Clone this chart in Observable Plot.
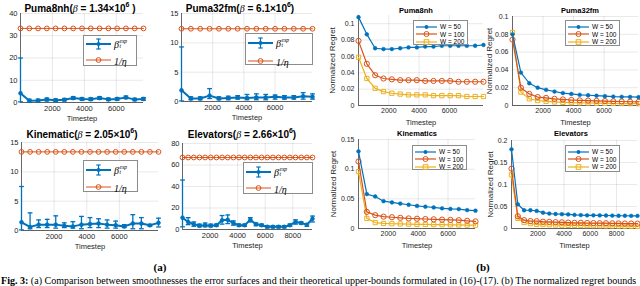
<!DOCTYPE html>
<html><head><meta charset="utf-8">
<script src="https://cdn.jsdelivr.net/npm/d3@7"></script>
<script src="https://cdn.jsdelivr.net/npm/@observablehq/plot@0.6"></script>
<style>
html,body{margin:0;padding:0;background:#fff;}
#fig{position:relative;width:640px;height:286px;overflow:hidden;font-family:"Liberation Sans",Arial,Helvetica,sans-serif;color:#000;}
.ttl{position:absolute;white-space:nowrap;font-weight:bold;line-height:1;transform:translateX(-50%);}
.mi{font-family:"Liberation Serif","Times New Roman",serif;font-style:italic;font-weight:normal;}
.ttl sup{font-size:0.7em;vertical-align:0;position:relative;top:-0.6em;}
.leg{position:absolute;background:#fff;border:0.7px solid #8c8c8c;box-sizing:border-box;}
.lrow{position:absolute;left:0;display:flex;align-items:center;white-space:nowrap;}
.cap{position:absolute;font-family:"Liberation Serif","Times New Roman",serif;white-space:nowrap;line-height:1;}
</style></head><body><div id="fig"></div>
<script>
// ---------- (a) smoothness data ----------
const tA_Puma8nh = [0,550,1100,1650,2200,2750,3300,3850,4400,4950,5500,6050,6600,7150,7700];
const betaPuma8nh   = [4.2,0.8,0.9,1.3,1.0,1.2,2.0,1.6,1.5,2.0,1.4,1.6,2.3,1.3,1.6];
const betaLoPuma8nh = [0.3,0.2,0.3,0.7,0.5,0.7,1.4,1.0,0.9,1.4,0.9,1.0,1.7,0.8,1.0];
const betaHiPuma8nh = [20,1.5,1.5,2.0,1.6,1.8,2.6,2.2,2.1,2.6,2.0,2.2,2.9,1.9,2.2];
const invEtaPuma8nh = 33.3;

const tA_Puma32fm = [0,600,1200,1800,2400,3000,3600,4200,4800,5400,6000,6600,7200,7800,8400];
const betaPuma32fm   = [1.9,0.5,0.5,1.0,0.5,0.6,0.7,0.6,0.7,0.7,0.8,0.7,0.7,0.9,0.8];
const betaLoPuma32fm = [0.1,0.3,0.3,0.5,0.3,0.3,0.4,0.3,0.3,0.3,0.4,0.4,0.4,0.4,0.4];
const betaHiPuma32fm = [9.3,0.8,0.8,2.2,0.8,0.9,1.0,1.2,1.3,1.2,1.1,1.0,1.0,1.5,1.3];
const invEtaPuma32fm = 12.4;

const tA_Kin = [0,525,1050,1575,2100,2625,3150,3675,4200,4725,5250,5775,6300,6825,7350,7875,8400];
const betaKin   = [1.4,0.6,1.0,1.0,1.0,0.8,0.7,1.0,1.1,1.2,1.0,0.9,0.7,1.2,1.2,0.9,1.3];
const betaLoKin = [0.1,0.3,0.5,0.5,0.4,0.5,0.4,0.3,0.5,0.5,0.4,0.4,0.5,0.3,0.3,0.7,0.6];
const betaHiKin = [7.5,3.0,1.8,1.9,2.5,1.3,1.5,2.4,2.2,2.0,1.8,1.6,1.0,2.7,2.2,1.0,2.1];
const invEtaKin = 13.4;

const tA_Elev = [0,410,820,1230,1640,2050,2460,2870,3280,3690,4100,4510,4920,5330,5740,6150,6560,6970,7380,7790,8200,8610,9020,9430];
const betaElev   = [11,7,5,3.5,4,3.5,4,8.5,9,6,4,4,9,5,4,2.5,2.5,2.5,2.5,4,7,6,4.5,10];
const betaLoElev = [2.5,4.5,3,2.5,2.5,2.5,3,5,5.5,4,3,3,7,3.5,3,1.5,1.5,1.5,1.5,3,5,5,3,7];
const betaHiElev = [46,11,7,5,6,5,5,13,13.5,8,5,5,11,6,5,3.5,3.5,3.5,3.5,5,9,7,5.5,12.5];
const invEtaElev = 67;

// ---------- (b) normalized regret data ----------
const seriesNames = ["W = 50","W = 100","W = 200"];
const tB_Puma8nh = [0,550,1100,1650,2200,2750,3300,3850,4400,4950,5500,6050,6600,7150,7700,8250];
const regPuma8nh_W50  = [0.108,0.087,0.070,0.069,0.069,0.070,0.071,0.071,0.072,0.072,0.073,0.073,0.073,0.073,0.073,0.074];
const regPuma8nh_W100 = [0.079,0.051,0.037,0.033,0.032,0.031,0.031,0.031,0.030,0.030,0.030,0.030,0.029,0.029,0.029,0.029];
const regPuma8nh_W200 = [0.059,0.033,0.021,0.017,0.015,0.014,0.013,0.013,0.013,0.012,0.012,0.012,0.012,0.011,0.011,0.011];

const tB_Puma32fm = [0,550,1100,1650,2200,2750,3300,3850,4400,4950,5500,6050,6600,7150,7700,8250];
const regPuma32fm_W50  = [0.080,0.037,0.025,0.020,0.0176,0.0157,0.014,0.013,0.012,0.0115,0.011,0.0105,0.010,0.0098,0.0096,0.0094];
const regPuma32fm_W100 = [0.074,0.020,0.013,0.0095,0.0085,0.0075,0.0068,0.0062,0.0058,0.0055,0.0052,0.005,0.0047,0.0045,0.0042,0.004];
const regPuma32fm_W200 = [0.082,0.015,0.0075,0.0056,0.0047,0.004,0.0035,0.0032,0.003,0.0028,0.0026,0.0024,0.0023,0.0022,0.0021,0.002];

const tB_Kin = [0,560,1120,1680,2240,2800,3360,3920,4480,5040,5600,6160,6720,7280,7840];
const regKin_W50  = [0.130,0.058,0.054,0.046,0.044,0.042,0.040,0.038,0.0367,0.0355,0.034,0.033,0.0327,0.031,0.030];
const regKin_W100 = [0.113,0.028,0.0225,0.020,0.019,0.018,0.017,0.0165,0.016,0.0155,0.015,0.0145,0.014,0.013,0.012];
const regKin_W200 = [0.096,0.017,0.010,0.0085,0.008,0.0077,0.0073,0.007,0.0068,0.0066,0.0064,0.0062,0.006,0.0058,0.0056];

const tB_Elev = [0,480,960,1440,1920,2400,2880,3360,3840,4320,4800,5280,5760,6240,6720,7200,7680,8160,8640,9120,9600];
const regElev_W50  = [0.180,0.055,0.0415,0.0415,0.040,0.036,0.034,0.033,0.0325,0.032,0.031,0.0305,0.030,0.030,0.0298,0.0295,0.0293,0.029,0.029,0.0288,0.0287];
const regElev_W100 = [0.136,0.028,0.019,0.017,0.0166,0.0155,0.015,0.0145,0.014,0.0135,0.013,0.013,0.0125,0.0123,0.012,0.012,0.0118,0.0115,0.0113,0.0112,0.011];
const regElev_W200 = [0.122,0.023,0.0136,0.011,0.0095,0.009,0.0085,0.008,0.0075,0.0072,0.007,0.0068,0.0066,0.0064,0.0062,0.006,0.0058,0.0056,0.0054,0.0052,0.005];

// ---------- styling ----------
const BLUE = "#0072BD", ORANGE = "#D95319", YELLOW = "#EDB120", AX = "#262626";
const FONT = '"Liberation Sans", Arial, Helvetica, sans-serif';
const fig = document.getElementById("fig");
const capSymbol = {draw(ctx){ ctx.moveTo(-2.4,0); ctx.lineTo(2.4,0); }};

function place(svg, left, top){
  svg.style.position = "absolute";
  svg.style.left = left + "px";
  svg.style.top = top + "px";
  fig.appendChild(svg);
}

function basePlot(g, marks){
  const ml = 34, mr = 6, mt = 4, mb = 26;
  const svg = Plot.plot({
    width: ml + g.w + mr, height: mt + g.h + mb,
    marginLeft: ml, marginRight: mr, marginTop: mt, marginBottom: mb,
    style: {fontFamily: FONT, fontSize: g.fs + "px", color: AX, background: "transparent", overflow: "visible"},
    x: {domain: g.xDomain, ticks: g.xTicks, tickSize: 0, tickPadding: 3, grid: true, label: null, tickFormat: d3.format("d")},
    y: {domain: g.yDomain, ticks: g.yTicks, tickSize: 0, tickPadding: g.yPad, grid: true, label: null, tickFormat: d3.format("~g")},
    marks: [
      Plot.ruleX([g.xDomain[0]], {stroke: AX, strokeWidth: 0.7}),
      Plot.ruleY([g.yDomain[0]], {stroke: AX, strokeWidth: 0.7}),
      Plot.text(["Timestep"], {text: d => d, frameAnchor: "bottom", dy: g.xlDy, lineAnchor: "middle", fontSize: g.lfs, fill: AX}),
      ...(g.yLabel ? [Plot.text([g.yLabel], {text: d => d, frameAnchor: "left", dx: g.ylDx, rotate: -90, textAnchor: "middle", lineAnchor: "middle", fontSize: 8, fill: AX})] : []),
      ...marks
    ]
  });
  place(svg, g.left - ml, g.top - mt);
}

function panelA(g, t, mean, lo, hi, invEta){
  const rows = t.map((x, i) => ({t: x, m: mean[i], lo: lo[i], hi: hi[i], inv: invEta}));
  basePlot(Object.assign({fs: 7.5, lfs: 7.5, yPad: 3, xlDy: 16}, g), [
    Plot.line(rows, {x: "t", y: "inv", stroke: ORANGE, strokeWidth: 1}),
    Plot.dot(rows, {x: "t", y: "inv", r: 2.4, stroke: ORANGE, fill: "none", strokeWidth: 1}),
    Plot.ruleX(rows, {x: "t", y1: "lo", y2: "hi", stroke: BLUE, strokeWidth: 1.3}),
    Plot.dot(rows, {x: "t", y: "hi", symbol: capSymbol, r: 2, stroke: BLUE, fill: "none", strokeWidth: 1.3}),
    Plot.dot(rows, {x: "t", y: "lo", symbol: capSymbol, r: 2, stroke: BLUE, fill: "none", strokeWidth: 1.3}),
    Plot.line(rows, {x: "t", y: "m", stroke: BLUE, strokeWidth: 2}),
    Plot.dot(rows, {x: "t", y: "m", r: 2, fill: BLUE, stroke: BLUE, strokeWidth: 0.5})
  ]);
}

function panelB(g, t, w50, w100, w200){
  const rows = [];
  [w50, w100, w200].forEach((arr, k) => arr.forEach((v, i) => rows.push({t: t[i], v, s: seriesNames[k]})));
  const sel = s => rows.filter(d => d.s === s);
  basePlot(Object.assign({fs: 7, lfs: 7.5, yPad: 4, xlDy: 17, yLabel: "Normalized Regret"}, g), [
    Plot.line(sel("W = 200"), {x: "t", y: "v", stroke: YELLOW, strokeWidth: 1.2}),
    Plot.dot(sel("W = 200"), {x: "t", y: "v", symbol: "square", r: 2.4, stroke: YELLOW, fill: "none", strokeWidth: 1}),
    Plot.line(sel("W = 100"), {x: "t", y: "v", stroke: ORANGE, strokeWidth: 1.2}),
    Plot.dot(sel("W = 100"), {x: "t", y: "v", r: 2.6, stroke: ORANGE, fill: "none", strokeWidth: 1}),
    Plot.line(sel("W = 50"), {x: "t", y: "v", stroke: BLUE, strokeWidth: 1.2}),
    Plot.dot(sel("W = 50"), {x: "t", y: "v", r: 1.9, fill: BLUE, stroke: BLUE, strokeWidth: 0.5})
  ]);
}

// ---------- panels ----------
const ticksA = [2000, 4000, 6000];
panelA({left: 20, top: 13, w: 123, h: 89, xDomain: [0, 7700], xTicks: ticksA, yDomain: [0, 40], yTicks: [0,10,20,30,40]},
  tA_Puma8nh, betaPuma8nh, betaLoPuma8nh, betaHiPuma8nh, invEtaPuma8nh);
panelA({left: 181, top: 13, w: 131, h: 88, xDomain: [0, 8400], xTicks: ticksA, yDomain: [0, 15], yTicks: [0,5,10,15]},
  tA_Puma32fm, betaPuma32fm, betaLoPuma32fm, betaHiPuma32fm, invEtaPuma32fm);
panelA({left: 21, top: 142, w: 137, h: 88, xDomain: [0, 8400], xTicks: ticksA, yDomain: [0, 15], yTicks: [0,5,10,15]},
  tA_Kin, betaKin, betaLoKin, betaHiKin, invEtaKin);
panelA({left: 182, top: 143, w: 130, h: 86, xDomain: [0, 9430], xTicks: [2000,4000,6000,8000], yDomain: [0, 80], yTicks: [0,20,40,60,80]},
  tA_Elev, betaElev, betaLoElev, betaHiElev, invEtaElev);

panelB({left: 358, top: 15, w: 125, h: 90, xDomain: [0, 8250], xTicks: ticksA, yDomain: [0, 0.11], yTicks: [0,0.02,0.04,0.06,0.08,0.1], ylDx: -26},
  tB_Puma8nh, regPuma8nh_W50, regPuma8nh_W100, regPuma8nh_W200);
panelB({left: 512, top: 16, w: 126, h: 89, xDomain: [0, 8250], xTicks: ticksA, yDomain: [0, 0.1], yTicks: [0,0.02,0.04,0.06,0.08,0.1], ylDx: -23},
  tB_Puma32fm, regPuma32fm_W50, regPuma32fm_W100, regPuma32fm_W200);
panelB({left: 358, top: 139, w: 117, h: 89, xDomain: [0, 7840], xTicks: ticksA, yDomain: [0, 0.15], yTicks: [0,0.05,0.1,0.15], ylDx: -25},
  tB_Kin, regKin_W50, regKin_W100, regKin_W200);
panelB({left: 511, top: 140, w: 126, h: 88, xDomain: [0, 9600], xTicks: [2000,4000,6000,8000], yDomain: [0, 0.2], yTicks: [0,0.05,0.1,0.15,0.2], ylDx: -21},
  tB_Elev, regElev_W50, regElev_W100, regElev_W200);

// ---------- titles ----------
function title(html, cx, baseline, fs){
  const d = document.createElement("div");
  d.className = "ttl";
  d.style.fontSize = fs + "px";
  d.style.left = cx + "px";
  d.style.top = (baseline - 0.85 * fs) + "px";
  d.innerHTML = html;
  fig.appendChild(d);
}
const beta = '<span class="mi">β</span>';
title(`Puma8nh(${beta} = 1.34×10<sup>6</sup> )`, 80, 12, 10);
title(`Puma32fm(${beta} = 6.1×10<sup>6</sup>)`, 240, 12, 10);
title(`Kinematic(${beta} = 2.05×10<sup>6</sup>)`, 82, 138, 10);
title(`Elevators(${beta} = 2.66×10<sup>6</sup>)`, 242, 138, 10);
title("Puma8nh", 416, 13.5, 7.5);
title("Puma32fm", 580, 13, 7.5);
title("Kinematics", 417, 136.5, 7.5);
title("Elevators", 571, 136.5, 7.5);

// ---------- legends ----------
const swErr = `<svg width="25" height="14"><line x1="0" y1="7" x2="25" y2="7" stroke="${BLUE}" stroke-width="2"/><line x1="12.5" y1="2" x2="12.5" y2="12" stroke="${BLUE}" stroke-width="1.2"/><line x1="10.3" y1="2" x2="14.7" y2="2" stroke="${BLUE}" stroke-width="1.2"/><line x1="10.3" y1="12" x2="14.7" y2="12" stroke="${BLUE}" stroke-width="1.2"/><circle cx="12.5" cy="7" r="2" fill="${BLUE}"/></svg>`;
const swInv = `<svg width="25" height="14"><line x1="0" y1="7" x2="25" y2="7" stroke="${ORANGE}" stroke-width="1"/><circle cx="12.5" cy="7" r="2.4" fill="none" stroke="${ORANGE}" stroke-width="1"/></svg>`;
const lblBeta = `<span class="mi" style="font-size:10px">β</span><span class="mi" style="display:inline-flex;flex-direction:column;font-size:5.5px;line-height:0.95;margin-left:0.5px"><span>exp</span><span>t</span></span>`;
const lblInv = `<span class="mi" style="font-size:10px">1/η</span>`;
function legendA(left, top, w, h, r1, r2){
  const d = document.createElement("div");
  d.className = "leg";
  Object.assign(d.style, {left: left + "px", top: top + "px", width: w + "px", height: h + "px"});
  d.innerHTML = `<div class="lrow" style="top:${r1 - 7}px;left:2px">${swErr}<span style="margin-left:3px;display:inline-flex;align-items:center">${lblBeta}</span></div>
                 <div class="lrow" style="top:${r2 - 7}px;left:2px">${swInv}<span style="margin-left:3px">${lblInv}</span></div>`;
  fig.appendChild(d);
}
legendA(83, 35, 54, 31, 8, 22);
legendA(245, 33, 68, 32, 9, 25);
legendA(83, 160, 55, 32, 9, 24);
legendA(243, 162, 70, 32, 9, 23);

function sw(color, kind){
  let m = "";
  if (kind === "dot") m = `<circle cx="10.5" cy="4" r="1.9" fill="${color}"/>`;
  if (kind === "circle") m = `<circle cx="10.5" cy="4" r="2.5" fill="none" stroke="${color}" stroke-width="1"/>`;
  if (kind === "square") m = `<rect x="8.2" y="1.7" width="4.6" height="4.6" fill="none" stroke="${color}" stroke-width="1"/>`;
  return `<svg width="21" height="8"><line x1="0" y1="4" x2="21" y2="4" stroke="${color}" stroke-width="1.2"/>${m}</svg>`;
}
function legendB(left, top, w, h){
  const d = document.createElement("div");
  d.className = "leg";
  Object.assign(d.style, {left: left + "px", top: top + "px", width: w + "px", height: h + "px", fontSize: "6.5px", color: "#000"});
  const kinds = [[BLUE, "dot"], [ORANGE, "circle"], [YELLOW, "square"]];
  d.innerHTML = seriesNames.map((s, i) => `<div class="lrow" style="top:${1.5 + i * 7.7}px;left:2px">${sw(kinds[i][0], kinds[i][1])}<span style="margin-left:3px">${s}</span></div>`).join("");
  fig.appendChild(d);
}
legendB(413, 20, 55, 25);
legendB(565, 20, 55, 26);
legendB(412, 145, 55, 25);
legendB(565, 145, 55, 27);

// ---------- captions ----------
function cap(html, x, y, fs, center, fitWidth){
  const d = document.createElement("div");
  d.className = "cap";
  d.style.fontSize = fs + "px";
  d.style.left = x + "px";
  d.style.top = y + "px";
  if (center) d.style.transform = "translateX(-50%)";
  d.innerHTML = html;
  fig.appendChild(d);
  if (fitWidth) {
    const w = d.getBoundingClientRect().width;
    if (w > 0) d.style.fontSize = (fs * fitWidth / w).toFixed(2) + "px";
  }
}
cap("<b>(a)</b>", 160, 262, 11, true);
cap("<b>(b)</b>", 483, 262, 11, true);
cap("<b>Fig. 3:</b> (a) Comparison between smoothnesses the error surfaces and their theoretical upper-bounds formulated in (16)-(17). (b) The normalized regret bounds", 1, 276, 10, false, 636);
</script></body></html>
